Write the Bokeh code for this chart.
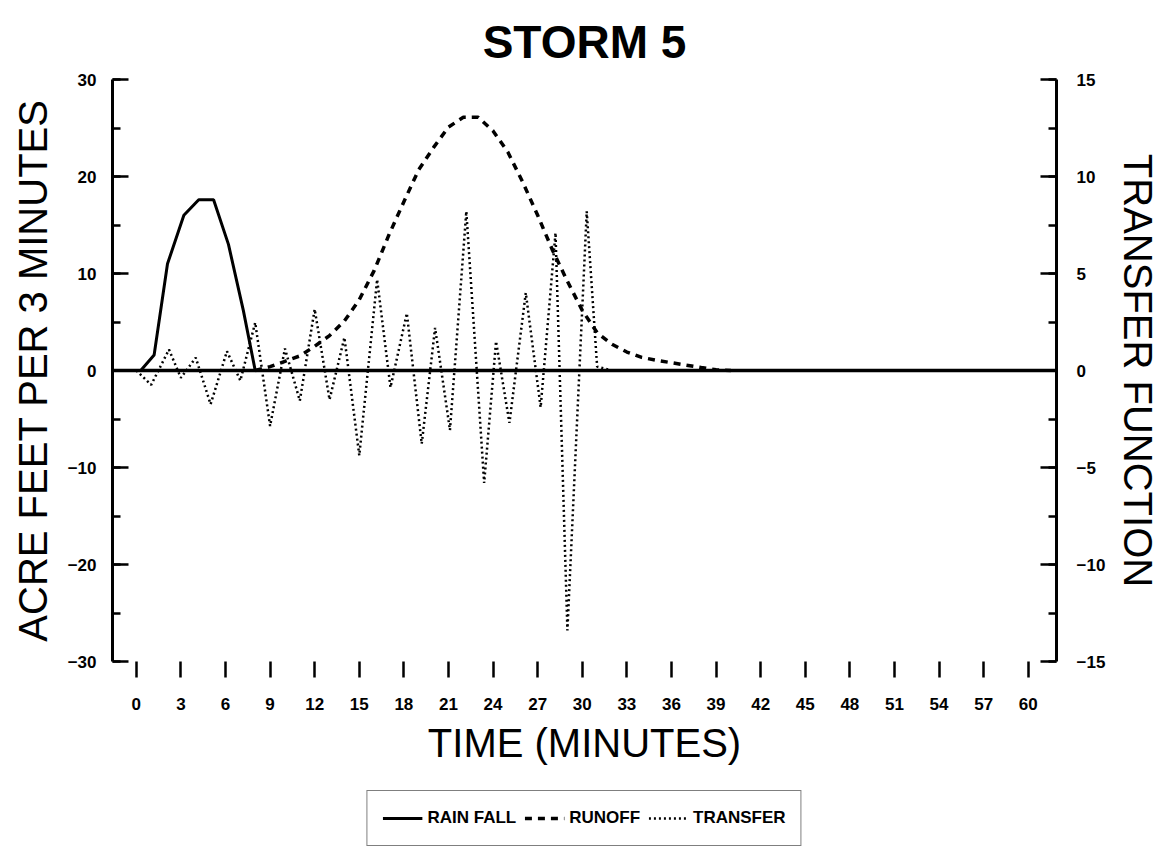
from bokeh.plotting import figure
from bokeh.models import (Range1d, LinearAxis, SingleIntervalTicker, Span, Legend,
                          LegendItem)
from bokeh.layouts import column
from bokeh.embed import file_html
from bokeh.resources import INLINE

# ---- data ----
rain_time = [0.3, 1.2, 2.1, 3.2, 4.2, 5.2, 6.2, 7.2, 8.0, 60.0]
rain_value = [0.0, 1.6, 11.0, 16.0, 17.6, 17.6, 13.0, 6.2, 0.0, 0.0]

runoff_time = [8, 9, 10, 11, 12, 13, 14, 15, 16, 17, 18, 19, 20, 21, 22, 23, 24,
               25, 26, 27, 28, 29, 30, 31, 32, 33, 34, 35, 36, 37, 38, 39, 40]
runoff_value = [0.0, 0.4, 0.95, 1.5, 2.5, 3.6, 5.1, 7.3, 10.3, 14.0, 17.4, 20.7,
                23.0, 25.1, 26.1, 26.1, 24.7, 22.5, 19.4, 16.0, 12.4, 9.2, 6.2,
                3.9, 2.7, 1.9, 1.35, 1.05, 0.8, 0.55, 0.3, 0.07, 0.0]

transfer_time = [0, 1, 2.2, 3, 4, 5, 6.1, 7, 8, 9, 10, 11, 12, 13, 14, 15, 16.2,
                 17.1, 18.2, 19.2, 20.1, 21.1, 22.2, 23.4, 24.2, 25.1, 26.2, 27.2,
                 28.2, 29.0, 30.3, 31.0, 32.0]
transfer_value = [0.0, -0.74, 1.08, -0.38, 0.66, -1.74, 0.99, -0.52, 2.47, -2.86,
                  1.13, -1.56, 3.16, -1.5, 1.7, -4.38, 4.69, -0.87, 2.95, -3.78,
                  2.2, -3.07, 8.2, -5.8, 1.5, -2.7, 4.0, -1.9, 7.1, -13.4, 8.2,
                  0.2, 0.0]

series_names = ["RAIN FALL", "RUNOFF", "TRANSFER"]

FONT = "Liberation Sans"
RAIN_STYLE = dict(line_color="black", line_width=3)
RUN_STYLE = dict(line_color="black", line_width=3.5, line_dash="7 6")
TF_STYLE = dict(line_color="black", line_width=2.5, line_dash="2 3")

p = figure(frame_width=944, frame_height=582, output_backend="svg",
           toolbar_location=None,
           x_range=Range1d(-1.6, 61.9), y_range=Range1d(-30, 30),
           min_border_left=112, min_border_right=108, min_border_top=79,
           min_border_bottom=112, x_axis_location=None, y_axis_location=None,
           title="STORM 5")
p.outline_line_color = None
p.grid.visible = False
p.background_fill_color = "white"
p.border_fill_color = "white"

p.title.align = "center"
p.title.text_font = FONT
p.title.text_font_size = "46px"
p.title.text_font_style = "bold"
p.title.text_color = "black"
p.title.standoff = 24

p.extra_y_ranges = {"tf": Range1d(-15, 15)}

# left axis
yl = LinearAxis(ticker=SingleIntervalTicker(interval=10, num_minor_ticks=2),
                axis_label="ACRE FEET PER 3 MINUTES")
# right axis
yr = LinearAxis(y_range_name="tf",
                ticker=SingleIntervalTicker(interval=5, num_minor_ticks=2),
                axis_label="TRANSFER FUNCTION")
for ax in (yl, yr):
    ax.axis_line_width = 3
    ax.axis_line_color = "black"
    ax.major_tick_in = 16
    ax.major_tick_out = 0
    ax.minor_tick_in = 8
    ax.minor_tick_out = 0
    ax.major_tick_line_width = 2.5
    ax.minor_tick_line_width = 2.5
    ax.major_label_text_font = FONT
    ax.major_label_text_font_style = "bold"
    ax.major_label_text_font_size = "17px"
    ax.major_label_text_color = "black"
    ax.axis_label_text_font = FONT
    ax.axis_label_text_font_style = "normal"
    ax.axis_label_text_font_size = "40px"
    ax.axis_label_text_color = "black"
yl.major_label_standoff = 16
yl.axis_label_standoff = 10
yr.major_label_standoff = 20
yr.axis_label_standoff = 8
p.add_layout(yl, "left")
p.add_layout(yr, "right")

# bottom axis: ticks only, no line
xa = LinearAxis(ticker=SingleIntervalTicker(interval=3, num_minor_ticks=0),
                axis_label="TIME (MINUTES)")
xa.axis_line_color = None
xa.major_tick_in = 0
xa.major_tick_out = 16
xa.major_tick_line_width = 2.5
xa.major_tick_line_color = "black"
xa.minor_tick_line_color = None
xa.major_label_text_font = FONT
xa.major_label_text_font_style = "bold"
xa.major_label_text_font_size = "17px"
xa.major_label_text_color = "black"
xa.major_label_standoff = 20
xa.axis_label_text_font = FONT
xa.axis_label_text_font_style = "normal"
xa.axis_label_text_font_size = "40px"
xa.axis_label_text_color = "black"
xa.axis_label_standoff = 8
p.add_layout(xa, "below")

# zero line
p.add_layout(Span(location=0, dimension="width", line_color="black", line_width=3.5))

p.line(rain_time, rain_value, **RAIN_STYLE)
p.line(runoff_time, runoff_value, **RUN_STYLE)
p.line(transfer_time, transfer_value, y_range_name="tf", **TF_STYLE)

# legend panel below the chart (its ranges keep the series out of view;
# only the legend box is visible)
lg = figure(width=1164, height=90, output_backend="svg", toolbar_location=None,
            x_range=Range1d(1000, 1001), y_range=Range1d(1000, 1001), min_border=0,
            x_axis_location=None, y_axis_location=None)
lg.outline_line_color = None
lg.grid.visible = False
lr1 = lg.line(rain_time, rain_value, **RAIN_STYLE)
lr2 = lg.line(runoff_time, runoff_value, **RUN_STYLE)
lr3 = lg.line(transfer_time, transfer_value, **TF_STYLE)

legend = Legend(items=[LegendItem(label=series_names[0], renderers=[lr1]),
                       LegendItem(label=series_names[1], renderers=[lr2]),
                       LegendItem(label=series_names[2], renderers=[lr3])],
                orientation="horizontal", location="center")
legend.label_text_font = FONT
legend.label_text_font_style = "bold"
legend.label_text_font_size = "17px"
legend.label_text_color = "black"
legend.label_height = 24
legend.border_line_color = "black"
legend.border_line_width = 1.5
legend.background_fill_alpha = 0
legend.glyph_width = 40
legend.spacing = 8
legend.padding = 15
legend.margin = 0
lg.add_layout(legend)

open("out.html", "w").write(file_html(column(p, lg, spacing=0), INLINE))
